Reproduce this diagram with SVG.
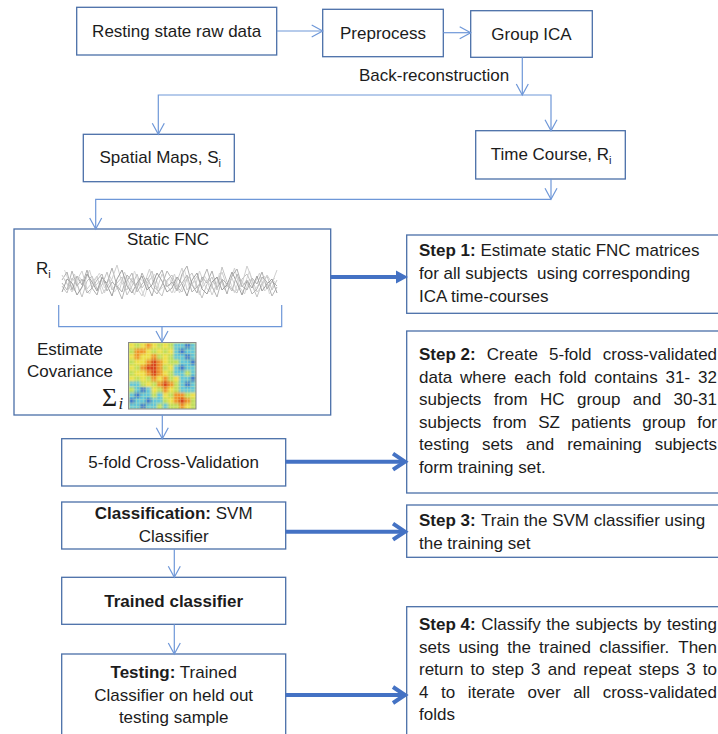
<svg xmlns="http://www.w3.org/2000/svg" width="718" height="734" viewBox="0 0 718 734">
<defs>
<style>
text{font-family:"Liberation Sans",Arial,sans-serif;font-size:17px;fill:#1c1c1c}
.b{font-weight:bold}
.box{fill:#fff;stroke:#4a6fa8;stroke-width:1.3}
.thin{fill:none;stroke:#6e97d8;stroke-width:1.2}
.thick{fill:none;stroke:#4472c4;stroke-width:4}
.wave{fill:none;stroke-width:1;stroke-linejoin:round}
.sub{font-size:11px}
</style>
<marker id="ah" markerUnits="userSpaceOnUse" markerWidth="14" markerHeight="14" viewBox="0 0 14 14" refX="12" refY="7" orient="auto">
<path d="M1,1 L12,7 L1,13" fill="none" stroke="#6e97d8" stroke-width="1.2"/>
</marker>
<filter id="mblur" x="-10%" y="-10%" width="120%" height="120%"><feGaussianBlur stdDeviation="0.22"/></filter>
<clipPath id="mclip" clipPathUnits="userSpaceOnUse"><rect x="0" y="0" width="12" height="12"/></clipPath>
<pattern id="grid" width="3.4" height="3.3" patternUnits="userSpaceOnUse"><path d="M0,0.3 H3.4 M0.3,0 V3.3" stroke="#f6f2a8" stroke-width="0.7" opacity="0.45"/></pattern>
</defs>
<rect width="718" height="734" fill="#fff"/>

<g id="n-raw"><rect class="box" x="76.7" y="7.3" width="200" height="47.7"/><text x="176.7" y="37" text-anchor="middle">Resting state raw data</text></g>
<g id="n-preprocess"><rect class="box" x="322.7" y="9.3" width="120.6" height="47.4"/><text x="383" y="39" text-anchor="middle">Preprocess</text></g>
<g id="n-gica"><rect class="box" x="470.7" y="10.7" width="121.6" height="46.6"/><text x="531.5" y="40" text-anchor="middle">Group ICA</text></g>
<g id="n-spatial"><rect class="box" x="83.3" y="134.3" width="151" height="47.4"/><text x="99.5" y="163">Spatial Maps, S<tspan class="sub" dy="4">i</tspan></text></g>
<g id="n-timecourse"><rect class="box" x="475.7" y="130.7" width="149.6" height="48.3"/><text x="490.7" y="160">Time Course, R<tspan class="sub" dy="4">i</tspan></text></g>

<g id="n-static">
<rect class="box" x="14" y="229" width="316.7" height="186"/>
<text x="168" y="245" text-anchor="middle">Static FNC</text>
<text x="36" y="273.5">R<tspan class="sub" dy="4">i</tspan></text>
<g opacity="0.85">
<polyline class="wave" stroke="#c8c8c8" points="64.5,279 69.5,288 74.5,274 79.5,292 84.5,283 89.5,270 94.5,287 99.5,281 104.5,293 109.5,276 114.5,285 119.5,290 124.5,272 129.5,284 134.5,295 139.5,278 144.5,283 149.5,269 154.5,288 159.5,291 164.5,279 169.5,286 174.5,274 179.5,293 184.5,281 189.5,277 194.5,289 199.5,271 204.5,285 209.5,292 214.5,280 219.5,276 224.5,290 229.5,283 234.5,268 239.5,287 244.5,294 249.5,279 254.5,284 259.5,273 264.5,291 269.5,286 274.5,278"/>
<polyline class="wave" stroke="#d2d2d2" points="64.5,270 69.5,283 74.5,291 79.5,277 84.5,286 89.5,294 94.5,281 99.5,273 104.5,288 109.5,279 114.5,292 119.5,284 124.5,276 129.5,289 134.5,271 139.5,285 144.5,297 149.5,280 154.5,274 159.5,290 164.5,286 169.5,278 174.5,293 179.5,283 184.5,270 189.5,288 194.5,281 199.5,295 204.5,276 209.5,284 214.5,291 219.5,273 224.5,287 229.5,280 234.5,293 239.5,278 244.5,285 249.5,271 254.5,290 259.5,283 264.5,276 269.5,294 274.5,281"/>
<polyline class="wave" stroke="#a0a0a0" points="62,280 67,272 72,290 77,276 82,285 87,270 92,288 97,295 102,278 107,283 112,268 117,286 122,292 127,275 132,281 137,289 142,273 147,284 152,296 157,279 162,270 167,287 172,282 177,291 182,274 187,266 192,285 197,293 202,277 207,283 212,271 217,288 222,280 227,294 232,276 237,269 242,286 247,290 252,278 257,284 262,272 267,289 272,281 277,286"/>
<polyline class="wave" stroke="#b8b8b8" points="62,286 67,293 72,278 77,284 82,297 87,281 92,276 97,289 102,285 107,272 112,290 117,283 122,277 127,295 132,286 137,274 142,288 147,281 152,271 157,290 162,296 167,280 172,275 177,287 182,292 187,279 192,273 197,286 202,298 207,284 212,277 217,290 222,267 227,282 232,289 237,293 242,279 247,274 252,285 257,297 262,283 267,276 272,290 277,280"/>
<polyline class="wave" stroke="#c6c6c6" points="62,275 67,284 72,292 77,280 82,271 87,289 92,283 97,276 102,294 107,287 112,279 117,265 122,283 127,290 132,278 137,288 142,296 147,283 152,277 157,289 162,274 167,285 172,293 177,281 182,268 187,290 192,284 197,276 202,288 207,280 212,295 217,283 222,272 227,287 232,278 237,291 242,284 247,266 252,279 257,292 262,286 267,275 272,283 277,270"/>
<polyline class="wave" stroke="#8e8e8e" points="62,292 67,279 72,283 77,295 82,287 87,274 92,282 97,291 102,277 107,285 112,296 117,279 122,270 127,286 132,293 137,283 142,276 147,290 152,285 157,273 162,281 167,292 172,288 177,277 182,284 187,296 192,280 197,273 202,289 207,294 212,282 217,277 222,290 227,285 232,272 237,283 242,295 247,281 252,288 257,276 262,291 267,284 272,279 277,293"/>
<polyline class="wave" stroke="#a8a8a8" points="62,283 67,290 72,271 77,286 82,279 87,293 92,288 97,280 102,274 107,291 112,282 117,287 122,299 127,281 132,273 137,292 142,284 147,278 152,288 157,294 162,285 167,271 172,279 177,290 182,283 187,275 192,292 197,287 202,281 207,269 212,286 217,297 222,279 227,284 232,291 237,274 242,287 247,280 252,294 257,289 262,277 267,282 272,296 277,287"/>
</g>
<text x="70" y="355" text-anchor="middle">Estimate</text>
<text x="70" y="377" text-anchor="middle">Covariance</text>
<text x="102" y="406" style="font-family:'Liberation Serif','DejaVu Serif',serif;font-size:26px">Σ</text>
<text x="118.5" y="409" style="font-family:'Liberation Serif','DejaVu Serif',serif;font-size:17px;font-style:italic">i</text>
<g transform="translate(129,343) scale(5.583,5.5)" clip-path="url(#mclip)">
<g filter="url(#mblur)">
<rect x="-1" y="-1" width="14" height="14" fill="#bede5c"/>
<path fill="#eee04a" d="M0 0h1v1h-1zM2 0h1v1h-1zM4 0h1v1h-1zM6 0h1v1h-1zM3 1h1v1h-1zM5 1h1v1h-1zM7 1h1v1h-1zM0 2h1v1h-1zM2 2h1v1h-1zM3 2h1v1h-1zM6 2h1v1h-1zM1 3h1v1h-1zM2 3h1v1h-1zM6 3h1v1h-1zM0 4h1v1h-1zM7 4h1v1h-1zM1 5h1v1h-1zM2 5h1v1h-1zM6 5h1v1h-1zM0 6h1v1h-1zM2 6h1v1h-1zM5 6h1v1h-1zM8 6h1v1h-1zM3 7h1v1h-1zM4 8h1v1h-1zM7 8h1v1h-1zM6 9h1v1h-1zM11 9h1v1h-1zM7 10h1v1h-1zM10 11h1v1h-1z"/>
<path fill="#f0922c" d="M3 0h1v1h-1zM1 1h1v1h-1zM2 1h1v1h-1zM1 2h1v1h-1zM4 2h1v1h-1zM3 3h1v1h-1zM5 3h1v1h-1zM2 4h1v1h-1zM5 4h1v1h-1zM3 5h1v1h-1zM5 5h1v1h-1zM4 6h1v1h-1zM6 6h1v1h-1zM5 7h1v1h-1zM7 7h1v1h-1zM6 8h1v1h-1zM8 9h1v1h-1zM9 9h1v1h-1zM8 10h1v1h-1zM10 10h1v1h-1zM9 11h1v1h-1z"/>
<path fill="#d8401e" d="M4 3h1v1h-1zM3 4h1v1h-1zM4 4h1v1h-1zM4 5h1v1h-1zM6 7h1v1h-1zM9 10h1v1h-1z"/>
<path fill="#62c6da" d="M8 0h1v1h-1zM9 0h1v1h-1zM11 0h1v1h-1zM8 1h1v1h-1zM10 1h1v1h-1zM11 1h1v1h-1zM8 2h1v1h-1zM9 2h1v1h-1zM11 2h1v1h-1zM9 3h1v1h-1zM10 3h1v1h-1zM8 4h1v1h-1zM10 4h1v1h-1zM11 4h1v1h-1zM8 5h1v1h-1zM9 5h1v1h-1zM11 5h1v1h-1zM9 6h1v1h-1zM10 6h1v1h-1zM0 7h1v1h-1zM1 7h1v1h-1zM9 7h1v1h-1zM11 7h1v1h-1zM1 8h1v1h-1zM3 8h1v1h-1zM9 8h1v1h-1zM10 8h1v1h-1zM11 8h1v1h-1zM0 9h1v1h-1zM2 9h1v1h-1zM3 9h1v1h-1zM5 9h1v1h-1zM1 10h1v1h-1zM2 10h1v1h-1zM4 10h1v1h-1zM5 10h1v1h-1zM0 11h1v1h-1zM1 11h1v1h-1zM3 11h1v1h-1zM4 11h1v1h-1zM6 11h1v1h-1z"/>
<path fill="#3a78d0" d="M10 0h1v1h-1zM9 1h1v1h-1zM10 2h1v1h-1zM11 3h1v1h-1zM9 4h1v1h-1zM11 6h1v1h-1zM10 7h1v1h-1zM2 8h1v1h-1zM1 9h1v1h-1zM0 10h1v1h-1zM3 10h1v1h-1zM2 11h1v1h-1z"/>
</g>
</g>
<rect x="129" y="343" width="67" height="66" fill="url(#grid)"/>
<rect x="128.5" y="342.5" width="67.5" height="66.5" fill="none" stroke="#8a8a8a" stroke-width="1"/>
</g>

<g id="n-cv"><rect class="box" x="61.7" y="438.7" width="224" height="47.3"/><text x="173.7" y="468" text-anchor="middle">5-fold Cross-Validation</text></g>
<g id="n-classification"><rect class="box" x="61.7" y="502" width="224" height="47"/><text x="173.7" y="519" text-anchor="middle"><tspan class="b">Classification:</tspan> SVM</text><text x="173.7" y="541.5" text-anchor="middle">Classifier</text></g>
<g id="n-trained"><rect class="box" x="61.7" y="577.3" width="224" height="47"/><text class="b" x="173.7" y="606.5" text-anchor="middle">Trained classifier</text></g>
<g id="n-testing"><rect class="box" x="61.7" y="654" width="224" height="90"/><text x="173.7" y="677.5" text-anchor="middle"><tspan class="b">Testing:</tspan> Trained</text><text x="173.7" y="700.5" text-anchor="middle">Classifier on held out</text><text x="173.7" y="722.5" text-anchor="middle">testing sample</text></g>

<g id="n-step1"><rect class="box" x="406.7" y="235" width="330" height="78.3"/>
<text x="419" y="256"><tspan class="b">Step 1:</tspan> Estimate static FNC matrices</text>
<text y="279"><tspan x="419">for all subjects</tspan><tspan x="537">using corresponding</tspan></text>
<text x="419" y="301.5">ICA time-courses</text></g>

<g id="n-step2"><rect class="box" x="406.7" y="331" width="330" height="162"/>
<text y="360"><tspan class="b" x="419">Step 2:</tspan><tspan x="486.85">Create</tspan><tspan x="549.04">5-fold</tspan><tspan x="602.73">cross-validated</tspan></text>
<text y="382.5"><tspan x="419">data</tspan><tspan x="460.01">where</tspan><tspan x="514.23">each</tspan><tspan x="559.02">fold</tspan><tspan x="594.35">contains</tspan><tspan x="665.59">31-</tspan><tspan x="698.09">32</tspan></text>
<text y="405"><tspan x="419">subjects</tspan><tspan x="493.72">from</tspan><tspan x="540.08">HC</tspan><tspan x="576.99">group</tspan><tspan x="632.82">and</tspan><tspan x="673.54">30-31</tspan></text>
<text y="427.5"><tspan x="419">subjects</tspan><tspan x="492.78">from</tspan><tspan x="538.2">SZ</tspan><tspan x="571.35">patients</tspan><tspan x="642.3">group</tspan><tspan x="697.19">for</tspan></text>
<text y="450"><tspan x="419">testing</tspan><tspan x="481.93">sets</tspan><tspan x="525.96">and</tspan><tspan x="567.17">remaining</tspan><tspan x="654.65">subjects</tspan></text>
<text x="419" y="472.5">form training set.</text></g>

<g id="n-step3"><rect class="box" x="406.7" y="505" width="330" height="52.3"/>
<text y="526"><tspan class="b" x="419">Step 3:</tspan><tspan x="481">Train the SVM classifier using</tspan></text>
<text x="419" y="548.5">the training set</text></g>

<g id="n-step4"><rect class="box" x="406.7" y="606.7" width="330" height="140"/>
<text y="630"><tspan class="b" x="419">Step 4:</tspan><tspan x="481.24">Classify</tspan><tspan x="546.3">the</tspan><tspan x="575.49">subjects</tspan><tspan x="643.41">by</tspan><tspan x="666.92">testing</tspan></text>
<text y="652.5"><tspan x="419">sets</tspan><tspan x="458.38">using</tspan><tspan x="507.21">the</tspan><tspan x="539.04">trained</tspan><tspan x="599.21">classifier.</tspan><tspan x="678.25">Then</tspan></text>
<text y="675"><tspan x="419">return</tspan><tspan x="470.53">to</tspan><tspan x="491.84">step</tspan><tspan x="531.1">3</tspan><tspan x="547.68">and</tspan><tspan x="583.17">repeat</tspan><tspan x="638.5">steps</tspan><tspan x="686.26">3</tspan><tspan x="702.84">to</tspan></text>
<text y="697.5"><tspan x="419">4</tspan><tspan x="441">to</tspan><tspan x="467.73">iterate</tspan><tspan x="527.52">over</tspan><tspan x="573.14">all</tspan><tspan x="602.69">cross-validated</tspan></text>
<text x="419" y="720">folds</text></g>

<g id="connectors">
<path class="thin" d="M276.7,31 H322.7" marker-end="url(#ah)"/>
<path class="thin" d="M443.3,32.7 H470.7" marker-end="url(#ah)"/>
<path class="thin" d="M522.3,57.3 V95" marker-end="url(#ah)"/>
<text x="359" y="81">Back-reconstruction</text>
<path class="thin" d="M522.3,95 H158.3 V134.3" marker-end="url(#ah)"/>
<path class="thin" d="M522.3,95 H551 V130.7" marker-end="url(#ah)"/>
<path class="thin" d="M551,179 V199.3" marker-end="url(#ah)"/>
<path class="thin" d="M551,199.3 H95.7 V229" marker-end="url(#ah)"/>
<path class="thin" d="M58.7,305 V326.7 H281.7 V305"/>
<path class="thin" d="M162,326.7 V342" marker-end="url(#ah)"/>
<path class="thin" d="M162.3,415 V438.7" marker-end="url(#ah)"/>
<path class="thin" d="M174.3,549 V577.3" marker-end="url(#ah)"/>
<path class="thin" d="M174.3,624.3 V654" marker-end="url(#ah)"/>
<path class="thick" d="M330.7,277 H398"/>
<polygon points="396,270.5 408,277 396,283.5" fill="#4472c4"/>
<path class="thick" d="M285.7,461.7 H403"/>
<polyline class="thick" points="393,453.7 405,461.7 393,469.7"/>
<path class="thick" d="M285.7,531.7 H403"/>
<polyline class="thick" points="393,523.7 405,531.7 393,539.7"/>
<path class="thick" d="M285.7,695 H403"/>
<polyline class="thick" points="393,687 405,695 393,703"/>
</g>
</svg>
